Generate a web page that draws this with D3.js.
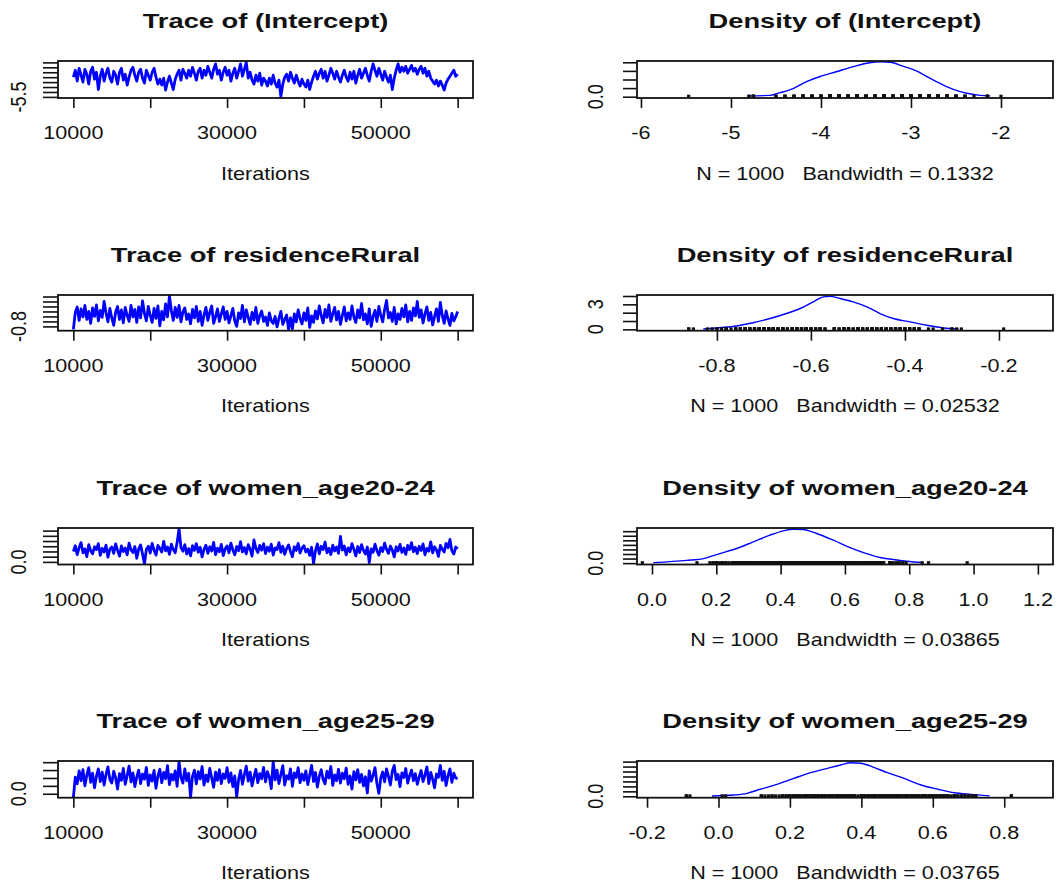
<!DOCTYPE html>
<html><head><meta charset="utf-8">
<script src="https://cdn.jsdelivr.net/npm/d3@7"></script>
<style>body{margin:0;background:#fff} svg{display:block} text{white-space:pre}</style>
</head><body>
<svg id="chart" width="1057" height="893"></svg>
<script>
// ---------------- data ----------------
const params = ["(Intercept)", "residenceRural", "women_age20-24", "women_age25-29"];
const nSamples = 1000;
const bandwidths = ["0.1332", "0.02532", "0.03865", "0.03765"];
const iterStart = 10000, iterEnd = 60000;
const iterDomain = [8000, 62000];
const iterTicks = [10000, 20000, 30000, 40000, 50000, 60000];
const iterTickLabels = ["10000", "", "30000", "", "50000", ""];

const traceIntercept = [
-3.5,-2.8,-3.9,-2.6,-3.3,-4.0,-2.7,-3.2,-4.2,-2.9,-2.5,-3.7,-3.0,-4.75,-3.4,-2.7,-3.9,-3.1,-2.6,-3.6,
-4.0,-2.9,-3.3,-4.2,-3.0,-2.6,-3.8,-3.2,-4.3,-3.5,-2.8,-2.5,-3.3,-3.9,-3.0,-2.7,-3.6,-4.1,-2.8,-3.3,
-3.8,-3.0,-2.6,-3.5,-4.2,-3.7,-4.3,-3.6,-4.8,-4.0,-3.4,-4.1,-4.75,-3.7,-3.2,-2.8,-3.8,-2.7,-3.1,-3.6,
-2.8,-3.4,-2.5,-3.1,-3.8,-2.9,-2.6,-3.6,-2.8,-3.3,-2.4,-3.0,-3.6,-2.7,-2.15,-3.2,-2.8,-3.8,-3.0,-2.5,
-3.3,-2.8,-3.9,-3.1,-2.6,-3.6,-2.9,-2.15,-3.4,-2.7,-2.0,-3.6,-3.0,-3.8,-4.2,-3.3,-3.9,-3.1,-4.3,-3.6,
-3.9,-4.4,-3.6,-4.2,-3.3,-4.1,-4.5,-3.8,-5.47,-4.2,-3.5,-3.2,-3.9,-3.0,-3.6,-4.1,-3.3,-3.9,-4.4,-3.7,
-4.2,-4.5,-3.8,-4.75,-4.0,-3.4,-2.9,-3.7,-3.1,-2.7,-3.6,-2.9,-3.9,-3.3,-2.6,-3.1,-3.7,-2.9,-3.5,-4.0,
-3.3,-2.8,-3.5,-3.9,-3.0,-3.7,-2.9,-4.1,-3.3,-2.7,-3.6,-3.1,-2.6,-3.3,-3.9,-2.9,-2.15,-2.8,-3.4,-2.6,
-3.2,-3.8,-2.9,-3.5,-4.0,-3.3,-4.75,-3.6,-2.8,-2.15,-3.0,-2.5,-2.9,-2.4,-3.1,-2.7,-2.3,-2.9,-2.6,-3.2,
-2.7,-2.4,-3.1,-2.6,-3.4,-2.9,-3.6,-3.9,-4.2,-3.8,-4.4,-3.9,-4.3,-4.8,-4.1,-3.7,-3.4,-3.1,-2.8,-3.4,-3.2];

const traceResidence = [
-0.86,-0.52,-0.41,-0.68,-0.45,-0.61,-0.38,-0.66,-0.50,-0.74,-0.43,-0.60,-0.37,-0.69,-0.48,-0.62,-0.30,-0.53,-0.71,-0.44,
-0.63,-0.78,-0.51,-0.40,-0.66,-0.47,-0.73,-0.42,-0.58,-0.70,-0.38,-0.61,-0.46,-0.72,-0.41,-0.63,-0.29,-0.54,-0.69,-0.40,
-0.58,-0.72,-0.44,-0.64,-0.39,-0.79,-0.50,-0.67,-0.35,-0.61,-0.19,-0.48,-0.68,-0.42,-0.62,-0.38,-0.71,-0.51,-0.43,-0.66,
-0.55,-0.75,-0.46,-0.63,-0.40,-0.70,-0.50,-0.78,-0.57,-0.42,-0.68,-0.52,-0.39,-0.74,-0.61,-0.45,-0.70,-0.55,-0.41,-0.66,
-0.50,-0.73,-0.59,-0.44,-0.69,-0.80,-0.53,-0.64,-0.38,-0.71,-0.47,-0.62,-0.76,-0.52,-0.67,-0.42,-0.74,-0.58,-0.49,-0.70,
-0.61,-0.78,-0.53,-0.69,-0.74,-0.60,-0.81,-0.64,-0.50,-0.76,-0.66,-0.57,-0.86,-0.63,-0.85,-0.55,-0.71,-0.47,-0.64,-0.75,
-0.53,-0.68,-0.43,-0.82,-0.59,-0.72,-0.49,-0.65,-0.39,-0.58,-0.73,-0.46,-0.62,-0.37,-0.70,-0.55,-0.42,-0.67,-0.50,-0.76,
-0.58,-0.41,-0.69,-0.53,-0.66,-0.39,-0.61,-0.72,-0.47,-0.63,-0.34,-0.67,-0.55,-0.75,-0.45,-0.80,-0.60,-0.48,-0.70,-0.40,
-0.58,-0.71,-0.46,-0.28,-0.63,-0.52,-0.70,-0.42,-0.75,-0.55,-0.66,-0.44,-0.61,-0.37,-0.71,-0.50,-0.68,-0.43,-0.59,-0.30,
-0.62,-0.47,-0.73,-0.55,-0.41,-0.68,-0.52,-0.77,-0.60,-0.45,-0.70,-0.32,-0.58,-0.74,-0.49,-0.65,-0.78,-0.54,-0.69,-0.61,-0.50];

const traceAge2024 = [
0.40,0.62,0.28,0.55,0.74,0.35,0.50,0.20,0.66,0.43,0.31,0.58,0.47,0.70,0.25,0.52,0.38,0.64,0.18,0.49,
0.57,0.33,0.69,0.44,0.22,0.61,0.40,0.53,0.27,0.72,0.46,0.36,0.59,0.14,0.50,0.65,0.30,-0.07,0.48,0.60,
0.34,0.71,0.45,0.26,0.63,0.52,0.38,0.79,0.42,0.57,0.29,0.68,0.47,0.35,0.74,1.28,0.55,0.41,0.66,0.30,
0.51,0.23,0.62,0.44,0.70,0.37,0.56,0.19,0.48,0.64,0.33,0.58,0.42,0.75,0.28,0.53,0.39,0.67,0.24,0.50,
0.61,0.35,0.72,0.46,0.27,0.59,0.43,0.78,0.38,0.55,0.31,0.66,0.49,0.22,0.84,0.52,0.36,0.63,0.45,0.70,
0.32,0.57,0.41,0.68,0.26,0.54,0.47,0.74,0.37,0.60,0.29,0.51,0.65,0.40,0.20,0.58,0.44,0.71,0.34,0.53,
0.62,0.38,0.49,0.25,0.56,-0.06,0.43,0.69,0.31,0.60,0.47,0.76,0.35,0.52,0.28,0.64,0.42,0.57,0.33,0.98,
0.45,0.61,0.27,0.54,0.39,0.70,0.48,0.23,0.59,0.36,0.66,0.44,0.30,0.57,-0.03,0.50,0.37,0.68,0.43,0.26,
0.55,0.40,0.72,0.48,0.33,0.61,0.45,0.19,0.58,0.42,0.67,0.36,0.53,0.29,0.63,0.47,0.74,0.39,0.56,0.32,
0.60,0.44,0.69,0.27,0.52,0.41,0.77,0.35,0.58,0.46,0.21,0.63,0.49,0.38,0.71,0.54,0.86,0.43,0.30,0.57,0.50];

const traceAge2529 = [
-0.09,0.42,0.25,0.58,0.33,0.61,0.20,0.47,0.66,0.29,0.52,0.15,0.44,0.63,0.31,0.55,0.22,0.49,0.68,0.36,
0.27,0.57,0.40,0.12,0.51,0.34,0.64,0.24,0.46,0.70,0.30,0.53,0.18,0.43,0.60,0.26,0.50,0.37,0.67,0.21,
0.48,0.32,0.59,0.14,0.45,0.62,0.28,0.54,0.38,0.71,0.23,0.49,0.35,0.58,0.19,0.82,0.41,0.27,0.63,0.33,
0.52,-0.09,0.44,0.60,0.25,0.56,0.37,0.69,0.22,0.47,0.31,0.64,0.40,0.16,0.55,0.34,0.61,0.26,0.50,0.39,
0.66,0.29,0.53,0.18,0.45,-0.08,0.36,0.59,0.24,0.48,0.70,0.32,0.55,0.20,0.43,0.62,0.28,0.51,0.38,0.67,
0.30,0.56,0.42,0.13,0.82,0.35,0.60,0.26,0.49,0.71,0.22,0.46,0.37,0.63,0.19,0.53,0.41,0.66,0.28,0.50,
0.34,0.58,0.23,0.47,0.72,0.31,0.54,0.17,0.44,0.61,0.36,0.25,0.57,0.40,0.69,0.21,0.48,0.33,0.62,0.27,
0.52,0.38,0.65,0.24,0.45,0.12,0.56,0.35,0.61,0.29,0.49,0.20,0.43,0.02,0.58,0.32,0.47,0.66,0.26,0.01,
0.40,0.55,0.30,0.63,0.44,0.22,0.57,0.72,0.36,0.49,0.18,0.53,0.41,0.64,0.27,0.46,0.60,0.33,0.51,0.24,
0.43,0.59,0.31,0.48,0.68,0.26,0.54,0.37,0.15,0.50,0.42,0.72,0.34,0.57,0.21,0.46,0.63,0.29,0.52,0.40,0.38];

const traceYDomains = [[-5.61, -1.86], [-0.886, -0.17], [-0.1, 1.3], [-0.1, 0.83]];
const traceYTicks = [
  [-5.5, -5.0, -4.5, -4.0, -3.5, -3.0, -2.5, -2.0],
  [-0.8, -0.7, -0.6, -0.5, -0.4, -0.3, -0.2],
  [0.0, 0.2, 0.4, 0.6, 0.8, 1.0, 1.2],
  [0.0, 0.2, 0.4, 0.6, 0.8]];
const traceYTickLabels = [["-5.5"], ["-0.8"], ["0.0"], ["0.0"]];

// density curves (x, y)
const densIntercept_x = [-4.81,-4.57,-4.46,-4.31,-4.16,-4.01,-3.83,-3.64,-3.46,-3.34,-3.23,-3.09,-2.94,-2.79,-2.64,-2.53,-2.38,-2.23,-2.12];
const densIntercept_y = [0.02,0.03,0.09,0.19,0.35,0.47,0.58,0.70,0.79,0.81,0.80,0.71,0.60,0.43,0.27,0.17,0.08,0.03,0.02];
const densResidence_x = [-0.829,-0.794,-0.758,-0.723,-0.687,-0.652,-0.623,-0.595,-0.574,-0.560,-0.538,-0.510,-0.481,-0.453,-0.425,-0.389,-0.354,-0.318,-0.286];
const densResidence_y = [0.04,0.2,0.4,0.8,1.3,1.9,2.5,3.3,3.9,3.96,3.7,3.3,2.7,1.9,1.3,0.9,0.5,0.17,0.04];
const densAge2024_x = [0.004,0.108,0.160,0.211,0.263,0.315,0.367,0.408,0.439,0.470,0.512,0.564,0.616,0.667,0.709,0.750,0.792,0.843];
const densAge2024_y = [0.05,0.3,0.5,1.05,1.6,2.33,3.07,3.54,3.72,3.69,3.25,2.52,1.71,1.05,0.62,0.4,0.2,0.05];
const densAge2529_x = [-0.018,0.042,0.080,0.117,0.164,0.211,0.258,0.305,0.342,0.370,0.398,0.435,0.473,0.520,0.567,0.614,0.661,0.707,0.759];
const densAge2529_y = [0.03,0.13,0.30,0.71,1.21,1.81,2.38,2.82,3.16,3.39,3.33,2.92,2.38,1.81,1.14,0.71,0.36,0.2,0.04];

const densXDomains = [[-6.044, -1.422], [-0.970, -0.085], [-0.0466, 1.247], [-0.2281, 0.9365]];
const densXTicks = [
  [-6, -5, -4, -3, -2],
  [-0.8, -0.6, -0.4, -0.2],
  [0.0, 0.2, 0.4, 0.6, 0.8, 1.0, 1.2],
  [-0.2, 0.0, 0.2, 0.4, 0.6, 0.8]];
const densXTickLabels = [
  ["-6", "-5", "-4", "-3", "-2"],
  ["-0.8", "-0.6", "-0.4", "-0.2"],
  ["0.0", "0.2", "0.4", "0.6", "0.8", "1.0", "1.2"],
  ["-0.2", "0.0", "0.2", "0.4", "0.6", "0.8"]];
const densYDomains = [[-0.03, 0.83], [-0.16, 4.12], [-0.15, 3.85], [-0.14, 3.56]];
const densYTicks = [
  [0.0, 0.2, 0.4, 0.6, 0.8],
  [0, 1, 2, 3, 4],
  [0.0, 0.5, 1.0, 1.5, 2.0, 2.5, 3.0, 3.5],
  [0.0, 0.5, 1.0, 1.5, 2.0, 2.5, 3.0, 3.5]];
const densYTickLabels = [["0.0"], ["0", "", "", "3"], ["0.0"], ["0.0"]];

// ---------------- layout ----------------
const traces = [traceIntercept, traceResidence, traceAge2024, traceAge2529];
const densX = [densIntercept_x, densResidence_x, densAge2024_x, densAge2529_x];
const densY = [densIntercept_y, densResidence_y, densAge2024_y, densAge2529_y];

const svg = d3.select("#chart");
svg.append("rect").attr("width", 1057).attr("height", 893).attr("fill", "#fff");
const traceXR = [58, 473], densXR = [637, 1053];
const rowTop = [61, 295, 528, 761], rowBot = [98, 330.7, 564.5, 797.7];
const FONT = "'Liberation Sans', Arial, Helvetica, sans-serif";
const INK = "#111";
const BLUE = "#0000ff";

function txt(g, x, y, s, o = {}) {
  const size = o.size || 18, sx = o.sx || 1.2;
  const t = g.append("text")
    .attr("transform", `translate(${x},${y}) scale(${sx},1)` + (o.rot ? " rotate(-90)" : ""))
    .attr("text-anchor", "middle")
    .attr("xml:space", "preserve")
    .attr("font-family", FONT)
    .attr("font-size", size)
    .attr("font-weight", o.bold ? "bold" : "normal")
    .attr("fill", INK)
    .text(s);
  if (o.rot) t.attr("dy", "0.36em");
  return t;
}

function styleAxis(g) {
  g.select(".domain").remove();
  g.selectAll(".tick line").attr("stroke", INK).attr("stroke-width", 1.6);
  g.selectAll(".tick text").remove();
}

function box(g, xr, top, bot) {
  g.append("rect").attr("x", xr[0]).attr("y", top)
    .attr("width", xr[1] - xr[0]).attr("height", bot - top)
    .attr("fill", "none").attr("stroke", INK).attr("stroke-width", 1.8);
}

params.forEach((p, i) => {
  const top = rowTop[i], bot = rowBot[i];

  // ---------- trace panel ----------
  const gT = svg.append("g");
  const xT = d3.scaleLinear().domain(iterDomain).range(traceXR);
  const yT = d3.scaleLinear().domain(traceYDomains[i]).range([bot, top]);
  const vals = traces[i];
  const step = (iterEnd - iterStart) / (vals.length - 1);
  const line = d3.line().x((d, j) => xT(iterStart + j * step)).y(d => yT(d));
  gT.append("path").datum(vals).attr("d", line)
    .attr("fill", "none").attr("stroke", BLUE).attr("stroke-width", 2.8)
    .attr("stroke-linejoin", "round");
  box(gT, traceXR, top, bot);

  const ax = gT.append("g").attr("transform", `translate(0,${bot})`)
    .call(d3.axisBottom(xT).tickValues(iterTicks).tickSize(10).tickFormat(""));
  styleAxis(ax);
  iterTicks.forEach((t, k) => {
    if (iterTickLabels[k]) txt(gT, xT(t), bot + 41, iterTickLabels[k]);
  });
  const ay = gT.append("g").attr("transform", `translate(${traceXR[0]},0)`)
    .call(d3.axisLeft(yT).tickValues(traceYTicks[i]).tickSize(15).tickFormat(""));
  styleAxis(ay);
  traceYTickLabels[i].forEach((lab, k) => {
    if (lab) txt(gT, 18, yT(traceYTicks[i][k]), lab, { rot: true });
  });
  txt(gT, (traceXR[0] + traceXR[1]) / 2, top - 33.5, "Trace of " + p, { bold: true, size: 21, sx: 1.3 });
  txt(gT, (traceXR[0] + traceXR[1]) / 2, bot + 81.5, "Iterations");

  // ---------- density panel ----------
  const gD = svg.append("g");
  const xD = d3.scaleLinear().domain(densXDomains[i]).range(densXR);
  const yD = d3.scaleLinear().domain(densYDomains[i]).range([bot, top]);
  const pts = densX[i].map((x, k) => [x, densY[i][k]]);
  gD.append("path").datum(pts)
    .attr("d", d3.line().x(d => xD(d[0])).y(d => yD(d[1])).curve(d3.curveMonotoneX))
    .attr("fill", "none").attr("stroke", BLUE).attr("stroke-width", 1.4);
  // rug of observations
  const dom = densXDomains[i];
  const y0 = yD(0);
  gD.append("g").selectAll("line")
    .data(vals.filter(v => v > dom[0] && v < dom[1]))
    .join("line")
    .attr("x1", d => xD(d)).attr("x2", d => xD(d))
    .attr("y1", y0 + 1).attr("y2", y0 - 2)
    .attr("stroke", INK).attr("stroke-width", 3.2);
  box(gD, densXR, top, bot);

  const dx = gD.append("g").attr("transform", `translate(0,${bot})`)
    .call(d3.axisBottom(xD).tickValues(densXTicks[i]).tickSize(10).tickFormat(""));
  styleAxis(dx);
  densXTicks[i].forEach((t, k) => txt(gD, xD(t), bot + 41, densXTickLabels[i][k]));
  const dy = gD.append("g").attr("transform", `translate(${densXR[0]},0)`)
    .call(d3.axisLeft(yD).tickValues(densYTicks[i]).tickSize(14).tickFormat(""));
  styleAxis(dy);
  densYTickLabels[i].forEach((lab, k) => {
    if (lab) txt(gD, 595, yD(densYTicks[i][k]), lab, { rot: true });
  });
  txt(gD, (densXR[0] + densXR[1]) / 2, top - 33.5, "Density of " + p, { bold: true, size: 21, sx: 1.3 });
  txt(gD, (densXR[0] + densXR[1]) / 2, bot + 81.5, "N = " + nSamples + "   Bandwidth = " + bandwidths[i]);
});
</script>
</body></html>
